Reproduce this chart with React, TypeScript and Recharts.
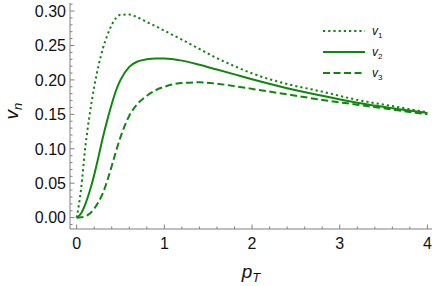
import React from 'react';
import { LineChart, Line, XAxis, YAxis } from 'recharts';

// transverse momentum grid and the three harmonics
const pT = [0, 0.05, 0.1, 0.15, 0.2, 0.25, 0.3, 0.35, 0.4, 0.45, 0.5, 0.6, 0.7, 0.8, 0.9, 1.0, 1.2, 1.4, 1.6, 1.8, 2.0, 2.4, 2.8, 3.2, 3.6, 4.0];
const v1 = [0, 0.041, 0.104, 0.151, 0.19, 0.221, 0.246, 0.265, 0.28, 0.29, 0.2945, 0.295, 0.2905, 0.284, 0.278, 0.2715, 0.2585, 0.245, 0.2315, 0.22, 0.2095, 0.194, 0.183, 0.171, 0.162, 0.153];
const v2 = [0, 0.006, 0.02, 0.039, 0.062, 0.089, 0.117, 0.142, 0.165, 0.185, 0.2, 0.219, 0.227, 0.23, 0.231, 0.231, 0.228, 0.222, 0.215, 0.208, 0.201, 0.188, 0.177, 0.167, 0.159, 0.152];
const v3 = [0, 0.0005, 0.002, 0.006, 0.013, 0.023, 0.036, 0.054, 0.075, 0.097, 0.117, 0.148, 0.166, 0.177, 0.185, 0.19, 0.1955, 0.1965, 0.1945, 0.191, 0.187, 0.179, 0.171, 0.164, 0.157, 0.15];

const xTicks = [0, 0.2, 0.4, 0.6, 0.8, 1, 1.2, 1.4, 1.6, 1.8, 2, 2.2, 2.4, 2.6, 2.8, 3, 3.2, 3.4, 3.6, 3.8, 4];
const yTicks = Array.from({ length: 33 }, (_, i) => Math.round((i - 1) * 100) / 10000);

const data = pT.map((p, i) => ({ pT: p, v1: v1[i], v2: v2[i], v3: v3[i] }));

const GREEN = '#0f870f';
const GRAY = '#808080';
const FONT = '"Liberation Sans", Arial, sans-serif';

const isMajorX = (v: number) => Math.abs(v - Math.round(v)) < 1e-6;
const isMajorY = (v: number) => Math.abs(v * 20 - Math.round(v * 20)) < 1e-6;

function BottomTick({ x, y, payload }: any) {
  const major = isMajorX(payload.value);
  return (
    <g>
      <line x1={x} x2={x} y1={y} y2={y - (major ? 4.5 : 2.5)} stroke={GRAY} />
      {major && (
        <text x={x} y={y + 20} textAnchor="middle" fontSize={16} fontFamily={FONT} fill="#111">
          {payload.value}
        </text>
      )}
    </g>
  );
}

function TopTick({ x, y, payload }: any) {
  const major = isMajorX(payload.value);
  return <line x1={x} x2={x} y1={y} y2={y + (major ? 4.5 : 2.5)} stroke={GRAY} />;
}

function LeftTick({ x, y, payload }: any) {
  const major = isMajorY(payload.value);
  return (
    <g>
      <line x1={x} x2={x + (major ? 4.5 : 2.5)} y1={y} y2={y} stroke={GRAY} />
      {major && (
        <text x={x - 4} y={y} dy="0.36em" textAnchor="end" fontSize={16} fontFamily={FONT} fill="#111">
          {payload.value.toFixed(2)}
        </text>
      )}
    </g>
  );
}

function RightTick({ x, y, payload }: any) {
  const major = isMajorY(payload.value);
  return <line x1={x} x2={x - (major ? 4.5 : 2.5)} y1={y} y2={y} stroke={GRAY} />;
}

function XLabel({ viewBox }: any) {
  const cx = viewBox.x + viewBox.width / 2;
  return (
    <text x={cx} y={viewBox.y + 49} textAnchor="middle" fontSize={19} fontFamily={FONT} fontStyle="italic" fill="#111">
      p<tspan fontSize={13} dy={4}>T</tspan>
    </text>
  );
}

function YLabel({ viewBox }: any) {
  const cy = viewBox.y + viewBox.height / 2 - 5;
  const cx = 18;
  return (
    <text x={cx} y={cy} transform={`rotate(-90 ${cx} ${cy})`} textAnchor="middle" fontSize={19} fontFamily={FONT} fontStyle="italic" fill="#111">
      v<tspan fontSize={13} dy={4}>n</tspan>
    </text>
  );
}

const legendItems = [
  { key: 'v1', sub: '1', dash: '2.2 3' },
  { key: 'v2', sub: '2', dash: undefined },
  { key: 'v3', sub: '3', dash: '7 3.5' },
];

function LegendBox() {
  return (
    <svg width={80} height={70} style={{ position: 'absolute', left: 318, top: 20 }}>
      {legendItems.map((it, i) => (
        <g key={it.key}>
          <line x1={5} x2={47} y1={11 + i * 21} y2={11 + i * 21} stroke={GREEN} strokeWidth={2} strokeDasharray={it.dash} />
          <text x={54} y={15 + i * 21} fontSize={12} fontFamily={FONT} fontStyle="italic" fill="#111">
            v<tspan fontSize={8} dy={3} fontStyle="normal">{it.sub}</tspan>
          </text>
        </g>
      ))}
    </svg>
  );
}

export default function App() {
  return (
    <div style={{ position: 'absolute', left: 0, top: 0, width: 436, height: 286, background: '#fff' }}>
      <LineChart width={436} height={286} data={data} margin={{ top: 3, right: 4, bottom: 0, left: 0 }}>
        <XAxis
          xAxisId="b"
          dataKey="pT"
          type="number"
          domain={[-0.076, 4.052]}
          allowDataOverflow
          ticks={xTicks}
          interval={0}
          height={57}
          tickSize={0}
          tickMargin={0}
          tickLine={false}
          tick={<BottomTick />}
          axisLine={{ stroke: GRAY }}
          label={<XLabel />}
        />
        <XAxis
          xAxisId="t"
          orientation="top"
          dataKey="pT"
          type="number"
          domain={[-0.076, 4.052]}
          allowDataOverflow
          ticks={xTicks}
          interval={0}
          height={0}
          tickSize={0}
          tickMargin={0}
          tickLine={false}
          tick={<TopTick />}
          axisLine={{ stroke: GRAY }}
        />
        <YAxis
          yAxisId="l"
          type="number"
          domain={[-0.0165, 0.3117]}
          allowDataOverflow
          ticks={yTicks}
          interval={0}
          width={70}
          tickSize={0}
          tickMargin={0}
          tickLine={false}
          tick={<LeftTick />}
          axisLine={{ stroke: GRAY }}
          label={<YLabel />}
        />
        <YAxis
          yAxisId="r"
          orientation="right"
          type="number"
          domain={[-0.0165, 0.3117]}
          allowDataOverflow
          ticks={yTicks}
          interval={0}
          width={0}
          tickSize={0}
          tickMargin={0}
          tickLine={false}
          tick={<RightTick />}
          axisLine={{ stroke: GRAY }}
        />
        <Line xAxisId="b" yAxisId="l" type="monotone" dataKey="v1" stroke={GREEN} strokeWidth={2} strokeDasharray="2.2 3" dot={false} isAnimationActive={false} />
        <Line xAxisId="b" yAxisId="l" type="monotone" dataKey="v2" stroke={GREEN} strokeWidth={2} dot={false} isAnimationActive={false} />
        <Line xAxisId="b" yAxisId="l" type="monotone" dataKey="v3" stroke={GREEN} strokeWidth={2} strokeDasharray="7 3.5" dot={false} isAnimationActive={false} />
      </LineChart>
      <LegendBox />
    </div>
  );
}
